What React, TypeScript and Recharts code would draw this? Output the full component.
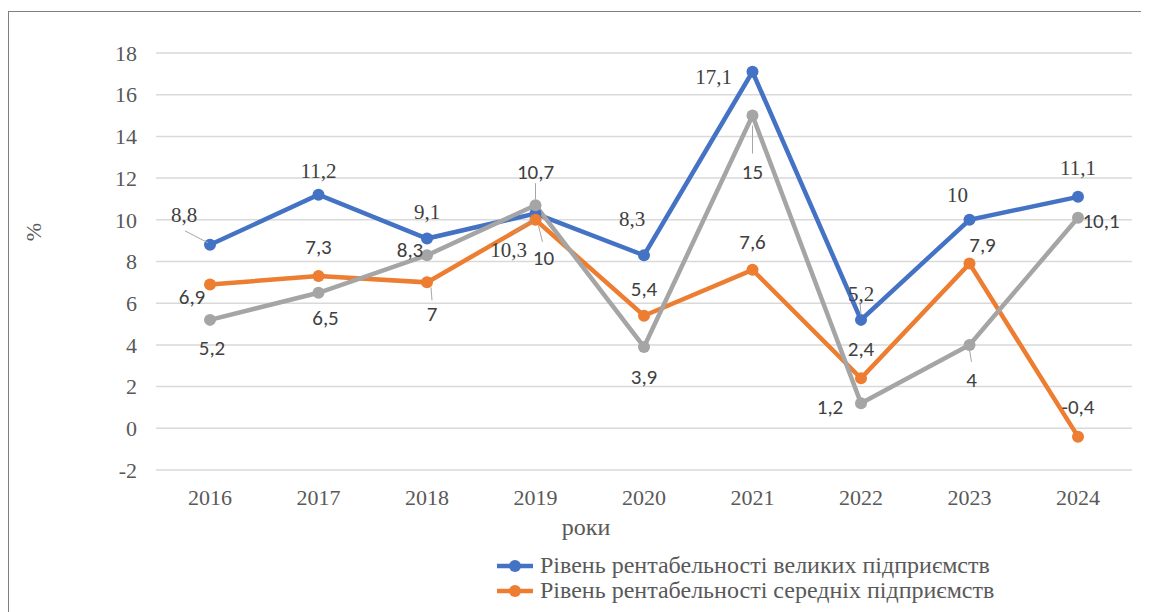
import React from 'react';
import { LineChart, Line, XAxis, YAxis, CartesianGrid, Legend, LabelList } from 'recharts';

const categories = ['2016', '2017', '2018', '2019', '2020', '2021', '2022', '2023', '2024'];
const largeValues = [8.8, 11.2, 9.1, 10.3, 8.3, 17.1, 5.2, 10, 11.1];
const mediumValues = [6.9, 7.3, 7, 10, 5.4, 7.6, 2.4, 7.9, -0.4];
const smallValues = [5.2, 6.5, 8.3, 10.7, 3.9, 15, 1.2, 4, 10.1];
const yTicks = [-2, 0, 2, 4, 6, 8, 10, 12, 14, 16, 18];
const seriesNames = [
  'Рівень рентабельності великих підприємств',
  'Рівень рентабельності середніх підприємств',
  'Рівень рентабельності малих підприємств',
];
const legendVisibleCount = 2;
const xTitle = 'роки';
const yTitle = '%';

const data = categories.map((c, i) => ({
  year: c,
  large: largeValues[i],
  medium: mediumValues[i],
  small: smallValues[i],
}));

const COLORS = { large: '#4472C4', medium: '#ED7D31', small: '#A5A5A5' };
const SERIF = "'Liberation Serif'";
const SANS = "'Carlito'";

type Off = { dx: number; dy: number; leader?: [number, number, number, number] };

const largeLabelPos: Off[] = [
  { dx: -26, dy: -30, leader: [-2, -2, -25, -14] },
  { dx: 0, dy: -24 },
  { dx: 0, dy: -27 },
  { dx: -27, dy: 36, leader: [-4, 6, -22, 20] },
  { dx: -12, dy: -37 },
  { dx: -39, dy: 5 },
  { dx: 0, dy: -26, leader: [0, -5, -1, -18] },
  { dx: -12, dy: -25 },
  { dx: 0, dy: -29 },
];
const mediumLabelPos: Off[] = [
  { dx: -18, dy: 12 },
  { dx: 0, dy: -29 },
  { dx: 5, dy: 31, leader: [4, 5, 5, 18] },
  { dx: 8, dy: 38, leader: [3, 6, 7, 22] },
  { dx: 0, dy: -27 },
  { dx: 0, dy: -28 },
  { dx: 0, dy: -30 },
  { dx: 13, dy: -19 },
  { dx: 0, dy: -30 },
];
const smallLabelPos: Off[] = [
  { dx: 2, dy: 28 },
  { dx: 7, dy: 25 },
  { dx: -17, dy: -6 },
  { dx: 0, dy: -34, leader: [0, -6, 0, -22] },
  { dx: 0, dy: 30 },
  { dx: 0, dy: 56, leader: [0, 10, 0, 38] },
  { dx: -31, dy: 3 },
  { dx: 2, dy: 35, leader: [0, 5, 2, 17] },
  { dx: 23, dy: 3 },
];

const fmt = (v: number) => String(v).replace('.', ',');

const makeLabel = (pos: Off[], font: string, size: number) => (props: any) => {
  const { x, y, value, index } = props;
  const p = pos[index] || { dx: 0, dy: -20 };
  return (
    <g>
      {p.leader && (
        <line
          x1={x + p.leader[0]}
          y1={y + p.leader[1]}
          x2={x + p.leader[2]}
          y2={y + p.leader[3]}
          stroke="#A6A6A6"
          strokeWidth={1}
        />
      )}
      <text
        x={x + p.dx}
        y={y + p.dy}
        dy="0.35em"
        textAnchor="middle"
        fill="#404040"
        fontFamily={font}
        fontSize={size}
        style={{ fontFamily: font, fontSize: size }}
      >
        {fmt(value)}
      </text>
    </g>
  );
};

const YTick = (props: any) => {
  const { y, payload } = props;
  return (
    <text x={129} y={y} dy="0.35em" textAnchor="end" fill="#595959" fontFamily={SERIF} fontSize={22} style={{ fontFamily: SERIF, fontSize: 22 }}>
      {payload.value}
    </text>
  );
};

const XTick = (props: any) => {
  const { x, payload } = props;
  return (
    <text x={x} y={489} dy="0.35em" textAnchor="middle" fill="#595959" fontFamily={SERIF} fontSize={22} style={{ fontFamily: SERIF, fontSize: 22 }}>
      {payload.value}
    </text>
  );
};

const legendColors = [COLORS.large, COLORS.medium, COLORS.small];

const LegendContent = () => (
  <div style={{ position: 'absolute', left: 489, top: 0, fontFamily: SERIF, fontSize: 24, color: '#595959' }}>
    {seriesNames.slice(0, legendVisibleCount).map((n, i) => (
      <div key={n} style={{ display: 'flex', alignItems: 'center', height: 25, whiteSpace: 'nowrap' }}>
        <svg width={40} height={14} style={{ marginRight: 3 }}>
          <line x1={0} y1={7} x2={36} y2={7} stroke={legendColors[i]} strokeWidth={4.5} />
          <circle cx={18} cy={7} r={6} fill={legendColors[i]} />
        </svg>
        <span style={{ fontFamily: SERIF }}>{n}</span>
      </div>
    ))}
  </div>
);

export default function App() {
  return (
    <div style={{ position: 'relative', width: 1141, height: 604, overflow: 'hidden', background: '#fff', fontFamily: SERIF }}>
      <div
        style={{
          position: 'absolute',
          left: 0,
          top: 3,
          width: 1300,
          height: 800,
          border: '1px solid #7F7F7F',
          boxSizing: 'border-box',
        }}
      />
      <LineChart
        width={1141}
        height={604}
        data={data}
        margin={{ top: 45, right: 17, left: 0, bottom: 92 }}
        style={{ position: 'absolute', left: 0, top: 0 }}
      >
        <CartesianGrid vertical={false} stroke="#D9D9D9" strokeWidth={1.5} />
        <XAxis
          dataKey="year"
          height={50}
          axisLine={false}
          tickLine={false}
          padding={{ left: 54, right: 54 }}
          tick={<XTick />}
          interval={0}
          label={{
            content: () => (
              <text x={578} y={519} dy="0.35em" textAnchor="middle" fill="#595959" fontFamily={SERIF} fontSize={24} style={{ fontFamily: SERIF, fontSize: 24 }}>
                {xTitle}
              </text>
            ),
          }}
        />
        <YAxis
          width={148}
          domain={[-2, 18]}
          ticks={yTicks}
          axisLine={false}
          tickLine={false}
          tick={<YTick />}
          interval={0}
          label={{
            content: () => (
              <text
                x={25}
                y={224}
                dy="0.35em"
                textAnchor="middle"
                fill="#595959"
                fontFamily={SERIF}
                fontSize={22}
                style={{ fontFamily: SERIF, fontSize: 22 }}
                transform="rotate(-90 25 224)"
              >
                {yTitle}
              </text>
            ),
          }}
        />
        <Legend
          content={<LegendContent />}
          wrapperStyle={{ position: 'absolute', left: 0, top: 545, width: 1141, height: 0 }}
        />
        <Line
          dataKey="large"
          name={seriesNames[0]}
          stroke={COLORS.large}
          strokeWidth={4.5}
          dot={{ r: 6, fill: COLORS.large, stroke: COLORS.large, strokeWidth: 0 }}
          isAnimationActive={false}
        >
          <LabelList dataKey="large" content={makeLabel(largeLabelPos, SERIF, 21)} />
        </Line>
        <Line
          dataKey="medium"
          name={seriesNames[1]}
          stroke={COLORS.medium}
          strokeWidth={4.5}
          dot={{ r: 6, fill: COLORS.medium, stroke: COLORS.medium, strokeWidth: 0 }}
          isAnimationActive={false}
        >
          <LabelList dataKey="medium" content={makeLabel(mediumLabelPos, SANS, 21)} />
        </Line>
        <Line
          dataKey="small"
          name={seriesNames[2]}
          stroke={COLORS.small}
          strokeWidth={4.5}
          dot={{ r: 6, fill: COLORS.small, stroke: COLORS.small, strokeWidth: 0 }}
          isAnimationActive={false}
        >
          <LabelList dataKey="small" content={makeLabel(smallLabelPos, SANS, 21)} />
        </Line>
      </LineChart>
    </div>
  );
}
